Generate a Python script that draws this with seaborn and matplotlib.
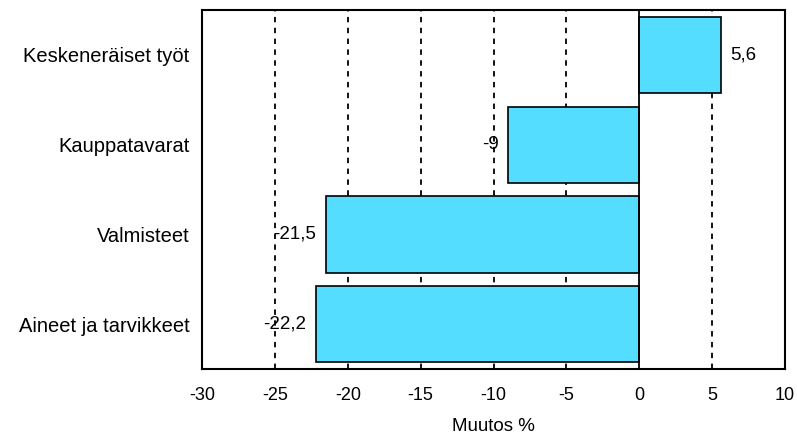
import pandas as pd
import numpy as np
import matplotlib
matplotlib.use("Agg")
import matplotlib.pyplot as plt
import seaborn as sns

# data
categories = ["Keskeneräiset työt", "Kauppatavarat", "Valmisteet", "Aineet ja tarvikkeet"]
values = [5.6, -9.0, -21.5, -22.2]
value_labels = ["5,6", "-9", "-21,5", "-22,2"]
x_ticks = [-30, -25, -20, -15, -10, -5, 0, 5, 10]

df = pd.DataFrame({"Category": categories, "Change": values})

sns.set_theme(style="white")
plt.rcParams["font.family"] = ["Liberation Sans", "DejaVu Sans"]
plt.rcParams["text.color"] = "black"
plt.rcParams["xtick.color"] = "black"
plt.rcParams["ytick.color"] = "black"
plt.rcParams["axes.labelcolor"] = "black"

fig = plt.figure(figsize=(7.97, 4.38), dpi=100)
ax = fig.add_axes([0.2535, 0.1575, 0.7315, 0.8195])

sns.barplot(data=df, x="Change", y="Category", orient="h", color="#55DDFF",
            edgecolor="black", linewidth=1.2, width=0.85, saturation=1, ax=ax)

# dashed vertical grid
ax.set_xlim(-30, 10)
ax.set_xticks(x_ticks)
ax.set_xticklabels([str(t) for t in x_ticks], fontsize=13)
for t in x_ticks[1:-1]:
    if t == 0:
        ax.axvline(0, color="black", lw=1.3, zorder=3)
    else:
        ax.axvline(t, color="black", lw=1.3, linestyle=(0, (3, 3)), zorder=0)

ax.bar_label(ax.containers[0], labels=value_labels, padding=7, fontsize=13.5,
             color="black")

ax.set_ylabel("")
ax.set_xlabel("Muutos %", fontsize=13.5, labelpad=10)
ax.tick_params(axis="x", length=0, pad=13)
ax.tick_params(axis="y", length=0, pad=9, labelsize=14.5)

for side in ["left", "top", "right", "bottom"]:
    ax.spines[side].set_color("black")
    ax.spines[side].set_linewidth(1.5)
    ax.spines[side].set_visible(True)

fig.savefig("out.png", dpi=100)
